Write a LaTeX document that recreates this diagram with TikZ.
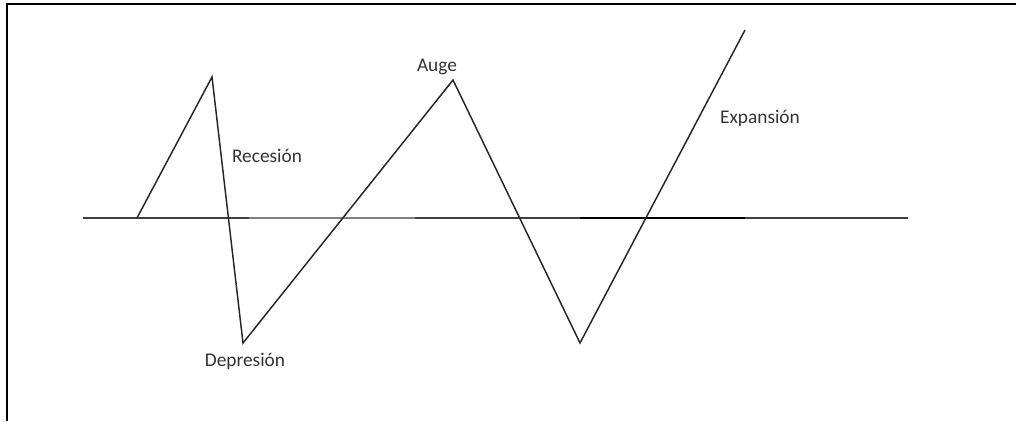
\documentclass[tikz,border=0pt]{standalone}
\usepackage{fontspec}
\setmainfont{Carlito}
\begin{document}
\begin{tikzpicture}[x=0.75pt,y=-0.75pt,
  curve/.style={line width=1.1pt,draw=black!85,line join=miter},
  axis/.style={line width=1.6pt},
  frame/.style={line width=1.6pt,draw=black},
  lbl/.style={font=\fontsize{14.5}{17}\selectfont,text=black!80,inner sep=0pt}]
\useasboundingbox (0,0) rectangle (1016,421);
% frame
\coordinate (fTL) at (7,4);
\coordinate (fTR) at (1016,4);
\coordinate (fBL) at (7,421);
\draw[frame] (fBL) -- (fTL) -- (fTR);
% axis
\coordinate (a0) at (83,218);
\coordinate (a1) at (249,218);
\coordinate (a2) at (415,218);
\coordinate (a3) at (580,218);
\coordinate (a4) at (745,218);
\coordinate (a5) at (908,218);
\draw[axis,draw=black!75] (a0) -- (a1);
\draw[axis,draw=black!50] (a1) -- (a2);
\draw[axis,draw=black!75] (a2) -- (a3);
\draw[axis,draw=black] (a3) -- (a4);
\draw[axis,draw=black!75] (a4) -- (a5);
% cycle curve
\coordinate (s) at (137,218);
\coordinate (p1) at (212,77);
\coordinate (t1) at (243,343);
\coordinate (p2) at (453,80);
\coordinate (t2) at (580,343);
\coordinate (e) at (745,30);
\draw[curve] (s) -- (p1) -- (t1) -- (p2) -- (t2) -- (e);
% labels
\node[lbl] (rec) at (267,156) {Recesión};
\node[lbl] (dep) at (245,361) {Depresión};
\node[lbl] (aug) at (437,67) {Auge};
\node[lbl] (exp) at (760,118) {Expansión};
\end{tikzpicture}
\end{document}
